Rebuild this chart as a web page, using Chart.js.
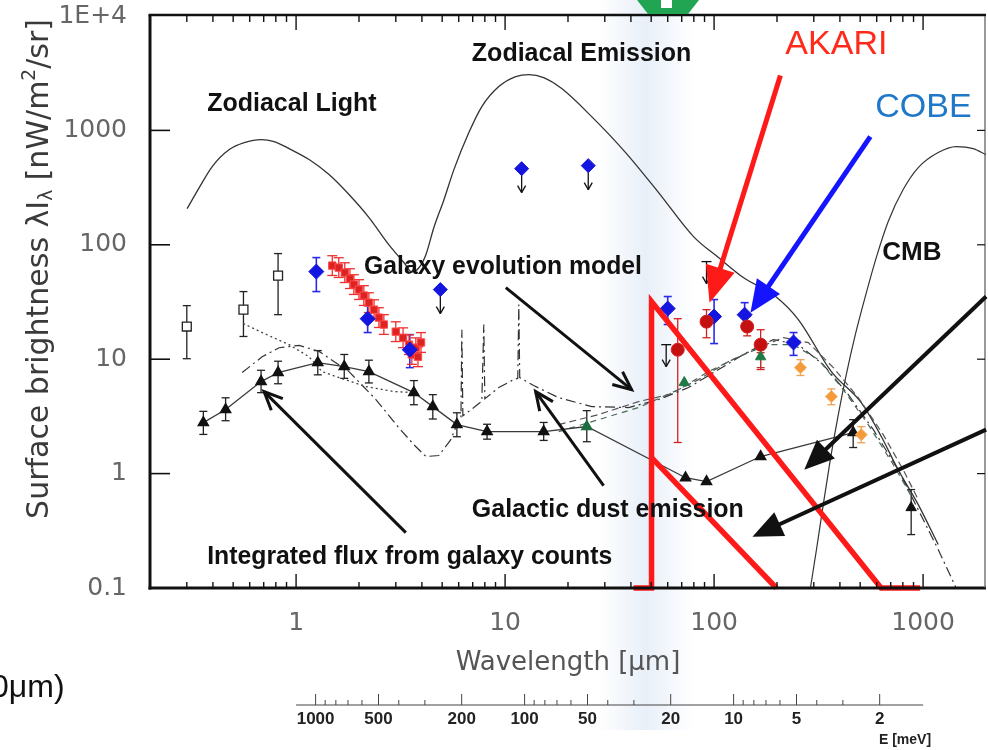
<!DOCTYPE html>
<html><head><meta charset="utf-8">
<script src="https://cdn.jsdelivr.net/npm/chart.js@4.4.1/dist/chart.umd.min.js"></script>
<style>html,body{margin:0;padding:0;background:#fff;overflow:hidden}canvas{display:block}</style>
</head><body>
<canvas id="c" width="988" height="750"></canvas>
<script>
// ---------------- DATA (wavelength in µm, surface brightness in nW/m²/sr) ----------------
const xTickValues = [1, 10, 100, 1000];
const yTickValues = [0.1, 1, 10, 100, 1000, 10000];
const energyTickLabels = [1000, 500, 200, 100, 50, 20, 10, 5, 2]; // meV

// Zodiacal light + zodiacal emission
const zodiLambda = [0.301,0.344,0.397,0.479,0.565,0.681,0.785,0.926,1.154,1.438,1.791,2.233,2.782,3.281,3.58,3.87,4.18,4.56,5.10,5.69,6.71,7.74,9.33,11.25,12.98,15.3,18.66,25.96,37.73,54.26,79.7,105,138,197,253,364,506,631,760,948,1181];
const zodiFlux   = [207,316,483,680,782,831,798,693,556,411,275,173,100,70,58,63,82,141,248,454,957,1615,2415,2953,3074,2894,2320,1320,640,286,118,77.3,51.7,35.3,22.2,7.79,4.17,2.11,1.08,0.536,0.24];

// CMB
const cmbLambda = [289,309,333,360,393,429,474,529,597,681,803,948,1181,1439,1736,2000];
const cmbFlux   = [0.1,0.217,0.536,1.33,3.28,7.33,16.4,35.3,77.3,160,304,473,640,722,693,614];

// Galactic dust emission (dash-dot, with PAH features)
const dustLambda = [0.552,0.688,0.829,1.034,1.288,1.791,2.41,3.1,3.66,4.18,4.82,5.5,6.0,6.15,6.21,6.28,7.09,7.74,7.91,8.0,9.33,11.0,11.5,11.63,11.75,13.7,18.0,26.0,39.0,54.3,75.5,105,146,192,253,333,439,578,760,948,1181,1439];
const dustFlux   = [7.64,10.5,12.6,13.2,11.7,7.79,4.44,2.52,1.79,1.41,1.44,1.98,2.96,3.1,18.1,3.2,3.78,4.3,20.1,4.5,5.65,6.63,6.8,30.0,6.9,5.88,4.62,3.85,3.78,4.44,5.65,8.11,11.65,14.84,13.4,8.97,4.90,2.42,1.08,0.484,0.217,0.1];

// Galaxy evolution model
const nirModelLambda = [0.558,0.688,0.926,1.154,1.331,1.553,2.16,2.94,3.66];
const nirModelFlux   = [20.5,17.1,13.4,10.5,7.79,7.05,5.76,5.21,5.11];
const firModelALambda = [18.05,28.0,43.5,60.5,84.2,117.2,163,214.6,282.5,372,489.7,644.7,803,948];
const firModelAFlux   = [2.68,3.28,4.26,4.90,6.63,9.53,12.63,15.45,13.97,8.44,4.62,2.19,1.08,0.593];
const firModelBLambda = [18.05,28.0,43.5,67.6,94.0,130.8,181.9,239.5,315.3,415.2,546.7,719.6,896.9];
const firModelBFlux   = [2.33,2.96,3.78,5.42,7.79,10.5,13.4,13.4,9.92,5.42,2.68,1.20,0.593];

// Integrated flux from galaxy counts (triangles)
const countsLambda = [0.36,0.46,0.68,0.82,1.27,1.7,2.23,3.66,4.51,5.88,8.2,15.3,24.6,73,92,167,463];
const countsFlux   = [2.79,3.63,6.37,7.64,9.34,8.62,7.79,5.11,3.85,2.68,2.33,2.33,2.58,0.92,0.85,1.41,2.28];
const countsErrLo  = [2.2,2.9,5.1,6.1,7.3,6.8,6.2,4.0,3.0,2.1,2.0,1.95,1.9,null,null,null,1.69];
const countsErrHi  = [3.5,4.6,8.0,9.6,11.9,11.0,9.8,6.5,4.9,3.4,2.7,2.8,3.55,null,null,null,2.96];

// Open squares (optical)
const sqLambda = [0.30,0.56,0.82];
const sqFlux   = [19.3,27.1,53.8];
const sqErrLo  = [10.1,15.8,24.5];
const sqErrHi  = [29.4,39.0,83.8];

// Red squares (near-IR spectrum)
const nirLambda = [1.49,1.6,1.71,1.81,1.89,2.0,2.11,2.23,2.36,2.49,2.63,3.0,3.25,3.47,3.74,3.96,3.58,3.83];
const nirFlux   = [65.8,63.2,57.1,50.6,44.9,40.6,36.0,31.2,27.1,23.1,20.1,17.4,15.4,13.4,12.6,14.0,11.0,10.5];

// COBE/DIRBE (blue diamonds)
const dirbeLambda = [1.25,2.2,3.5,60,100,140,240];
const dirbeFlux   = [58.3,22.6,12.1,27.7,23.6,24.5,14.0];
const dirbeErrLo  = [39.0,17.1,8.44,20.1,13.7,19.3,10.8];
const dirbeErrHi  = [77.3,29.4,16.4,35.3,33.2,31.2,17.1];
const dirbeULLambda = [4.9,12,25];
const dirbeULFlux   = [40.6,463,492];

// AKARI (red circles)
const akariLambda = [67,92,144,167];
const akariFlux   = [12.1,21.3,19.3,13.4];
const akariErrLo  = [1.87,15.4,16.0,8.12];
const akariErrHi  = [22.6,27.1,23.6,18.1];

// Other far-IR points
const greenLambda = [72,167];
const greenFlux   = [6.25,10.5];
const greenErrLo  = [null,8.44];
const greenErrHi  = [null,11.4];
const orangeLambda = [259,364,506];
const orangeFlux   = [8.44,4.71,2.19];
const orangeErrLo  = [7.2,4.0,1.86];
const orangeErrHi  = [9.9,5.5,2.57];
const ulBlackLambda = [59,92];
const ulBlackFlux   = [13.4,71.3];
const submmLambda = [877];
const submmFlux   = [0.504];
const submmErrLo  = [0.293];
const submmErrHi  = [0.725];

// AKARI band outlines (red)
const band1Lambda = [41.2,50.2,50.2,630,968];
const band1Flux   = [0.1,0.1,31.9,0.1,0.1];
const band2Lambda = [50.2,198.6];
const band2Flux   = [1.38,0.1];

// ---------------- ANNOTATIONS (in data coordinates) ----------------
const labelDefs = [
  {text:'Zodiacal Light', l:0.3756, f:1681, w:172, font:'bold 25px "Liberation Sans"', color:'#111'},
  {text:'Zodiacal Emission', l:6.934, f:4598, w:220, font:'bold 25px "Liberation Sans"', color:'#111'},
  {text:'Galaxy evolution model', l:2.113, f:63.2, w:278, font:'bold 25px "Liberation Sans"', color:'#111'},
  {text:'CMB', l:637.6, f:85.5, w:64, font:'bold 26px "Liberation Sans"', color:'#111'},
  {text:'Galactic dust emission', l:6.934, f:0.484, w:272, font:'bold 25px "Liberation Sans"', color:'#111'},
  {text:'Integrated flux from galaxy counts', l:0.3756, f:0.1844, w:405, font:'bold 25px "Liberation Sans"', color:'#111'},
  {text:'AKARI', l:219.3, f:5623, w:104, font:'34px "Liberation Sans"', color:'#ff2a1a'},
  {text:'COBE', l:590.3, f:1582, w:99, font:'34px "Liberation Sans"', color:'#1f78c8'}
];
const arrowDefs = [
  {from:[207.6,3013], to:[95.1,31.2], color:'#ff1a1a', width:5, head:'filled', hl:36, hw:15},
  {from:[559,883], to:[149.3,25.5], color:'#1414ff', width:5, head:'filled', hl:32, hw:14},
  {from:[3.35,0.305], to:[0.703,5.21], color:'#111', width:3, head:'open', hl:20},
  {from:[29.6,0.785], to:[14.0,5.21], color:'#111', width:3, head:'open', hl:20},
  {from:[10.08,42.3], to:[40.3,5.42], color:'#111', width:3, head:'open', hl:20},
  {from:[2002,35.3], to:[270,1.08], color:'#111', width:4, head:'filled', hl:30, hw:13},
  {from:[2002,2.42], to:[152.6,0.281], color:'#111', width:4, head:'filled', hl:30, hw:13}
];

// ---------------- CHART ----------------
const pts = (xs, ys) => xs.map((x, i) => ({x: x, y: ys[i]}));
Chart.defaults.font.family = "'DejaVu Sans', sans-serif";

const curve = (label, xs, ys, extra) => Object.assign({
  label, data: pts(xs, ys), showLine: true, pointRadius: 0, borderColor: '#333',
  borderWidth: 1.3, fill: false, tension: 0
}, extra || {});
const marks = (label, xs, ys, extra) => Object.assign({
  label, data: pts(xs, ys), showLine: false, pointRadius: 6, pointBorderWidth: 1
}, extra || {});

const datasets = [
  curve('AKARI band 1', band1Lambda, band1Flux, {borderColor:'#ff1a1a', borderWidth:5.5, clip:10, borderJoinStyle:'miter'}),
  curve('AKARI band 2', band2Lambda, band2Flux, {borderColor:'#ff1a1a', borderWidth:5.5, clip:10}),
  marks('AKARI', akariLambda, akariFlux, {pointStyle:'circle', pointRadius:6.5, backgroundColor:'#c41010', borderColor:'#d82020', errLo:akariErrLo, errHi:akariErrHi, errColor:'#d42020'}),
  marks('DIRBE', dirbeLambda, dirbeFlux, {pointStyle:'rectRot', pointRadius:7.5, backgroundColor:'#1515e0', borderColor:'#1515e0', errLo:dirbeErrLo, errHi:dirbeErrHi, errColor:'#2a2ae8', errWidth:1.6}),
  marks('DIRBE UL', dirbeULLambda, dirbeULFlux, {pointStyle:'rectRot', pointRadius:7, backgroundColor:'#1515e0', borderColor:'#1515e0', ulArrow:true}),
  marks('NIR spectrum', nirLambda, nirFlux, {pointStyle:'rect', pointRadius:5.2, backgroundColor:'#dd2222', borderColor:'#ff4a4a', errLo:nirLambda.map((v,i)=>nirFlux[i]/1.22), errHi:nirLambda.map((v,i)=>nirFlux[i]*1.22), errColor:'#ee3030', capHalf:5}),
  marks('Green', greenLambda, greenFlux, {pointStyle:'triangle', pointRadius:6, backgroundColor:'#1e7b45', borderColor:'#1e7b45', errLo:greenErrLo, errHi:greenErrHi, errColor:'#c03030'}),
  marks('Orange', orangeLambda, orangeFlux, {pointStyle:'rectRot', pointRadius:6, backgroundColor:'#f59a3a', borderColor:'#f7b060', errLo:orangeErrLo, errHi:orangeErrHi, errColor:'#f0a050'}),
  marks('Upper limits', ulBlackLambda, ulBlackFlux, {pointRadius:0, ulCap:true}),
  marks('Submm', submmLambda, submmFlux, {pointStyle:'triangle', pointRadius:6, backgroundColor:'#111', borderColor:'#111', errLo:submmErrLo, errHi:submmErrHi, errColor:'#222'}),
  marks('Optical', sqLambda, sqFlux, {pointStyle:'rect', pointRadius:6.3, backgroundColor:'#fff', borderColor:'#222', pointBorderWidth:1.3, errLo:sqErrLo, errHi:sqErrHi, errColor:'#222'}),
  curve('Galaxy counts', countsLambda, countsFlux, {pointRadius:6, pointStyle:'triangle', borderColor:'#3a3a3a', borderWidth:1.3,
     pointBackgroundColor: countsLambda.map((v,i)=> i===12 ? '#1e6b3f' : '#111'), pointBorderColor: countsLambda.map((v,i)=> i===12 ? '#1e6b3f' : '#111'),
     errLo:countsErrLo, errHi:countsErrHi, errColor:'#222'}),
  curve('NIR model', nirModelLambda, nirModelFlux, {borderDash:[2,3], borderColor:'#444'}),
  curve('FIR model A', firModelALambda, firModelAFlux, {borderDash:[7,4], borderColor:'#555', borderWidth:1.2}),
  curve('FIR model B', firModelBLambda, firModelBFlux, {borderDash:[6,5], borderColor:'#4a6a55', borderWidth:1.2}),
  curve('Galactic dust', dustLambda, dustFlux, {borderDash:[10,4,2,4], borderColor:'#333', borderWidth:1.2}),
  curve('CMB', cmbLambda, cmbFlux, {cubicInterpolationMode:'monotone', borderColor:'#333', borderWidth:1.2}),
  curve('Zodiacal', zodiLambda, zodiFlux, {cubicInterpolationMode:'monotone', borderColor:'#333', borderWidth:1.3})
];

function line(ctx, x1, y1, x2, y2) { ctx.beginPath(); ctx.moveTo(x1, y1); ctx.lineTo(x2, y2); ctx.stroke(); }

function drawArrow(ctx, x1, y1, x2, y2, o) {
  const a = Math.atan2(y2 - y1, x2 - x1);
  ctx.save();
  ctx.strokeStyle = o.color; ctx.fillStyle = o.color; ctx.lineWidth = o.width; ctx.lineCap = 'butt';
  if (o.head === 'filled') {
    const bx = x2 - o.hl * Math.cos(a), by = y2 - o.hl * Math.sin(a);
    line(ctx, x1, y1, bx + 2 * Math.cos(a), by + 2 * Math.sin(a));
    ctx.beginPath(); ctx.moveTo(x2, y2);
    ctx.lineTo(bx + o.hw * Math.sin(a), by - o.hw * Math.cos(a));
    ctx.lineTo(bx - o.hw * Math.sin(a), by + o.hw * Math.cos(a));
    ctx.closePath(); ctx.fill();
  } else {
    line(ctx, x1, y1, x2, y2);
    ctx.lineJoin = 'miter';
    ctx.beginPath();
    ctx.moveTo(x2 - o.hl * Math.cos(a - 0.42), y2 - o.hl * Math.sin(a - 0.42));
    ctx.lineTo(x2, y2);
    ctx.lineTo(x2 - o.hl * Math.cos(a + 0.42), y2 - o.hl * Math.sin(a + 0.42));
    ctx.stroke();
  }
  ctx.restore();
}

const decorPlugin = {
  id: 'decor',
  beforeDraw(chart) {
    const {ctx, scales: {x}} = chart;
    ctx.save();
    ctx.fillStyle = '#fff'; ctx.fillRect(0, 0, chart.width, chart.height);
    const xc = x.getPixelForValue(47);
    const g = ctx.createLinearGradient(xc - 48, 0, xc + 48, 0);
    g.addColorStop(0, 'rgba(210,224,242,0)');
    g.addColorStop(0.5, 'rgba(210,224,242,0.5)');
    g.addColorStop(1, 'rgba(210,224,242,0)');
    ctx.fillStyle = g; ctx.fillRect(xc - 48, 0, 96, 730);
    ctx.restore();
  },
  beforeDatasetsDraw(chart) {
    const {ctx, scales: {x, y}} = chart;
    ctx.save();
    chart.data.datasets.forEach(ds => {
      if (ds.errLo) {
        ctx.strokeStyle = ds.errColor || '#222';
        ctx.lineWidth = ds.errWidth || 1.3;
        const c = ds.capHalf || 4;
        ds.data.forEach((p, i) => {
          if (ds.errLo[i] == null) return;
          const xp = x.getPixelForValue(p.x);
          const y1 = y.getPixelForValue(ds.errLo[i]), y2 = y.getPixelForValue(ds.errHi[i]);
          line(ctx, xp, y1, xp, y2);
          line(ctx, xp - c, y1, xp + c, y1);
          line(ctx, xp - c, y2, xp + c, y2);
        });
      }
      if (ds.ulArrow || ds.ulCap) {
        ctx.strokeStyle = '#111'; ctx.fillStyle = '#111'; ctx.lineWidth = 1.3;
        ds.data.forEach(p => {
          const xp = x.getPixelForValue(p.x), yp = y.getPixelForValue(p.y);
          const top = ds.ulCap ? yp : yp + 6;
          const bot = yp + (ds.ulCap ? 22 : 24);
          if (ds.ulCap) line(ctx, xp - 5, top, xp + 5, top);
          line(ctx, xp, top, xp, bot);
          line(ctx, xp - 4, bot - 7, xp, bot);
          line(ctx, xp + 4, bot - 7, xp, bot);
        });
      }
    });
    ctx.restore();
  },
  afterDraw(chart) {
    const {ctx, chartArea: ca, scales: {x, y}} = chart;
    ctx.save();
    // frame
    ctx.strokeStyle = '#111';
    ctx.lineWidth = 3; line(ctx, ca.left, ca.top - 1, ca.left, ca.bottom + 1.5);
    line(ctx, ca.left - 1.5, ca.bottom, ca.right, ca.bottom);
    ctx.lineWidth = 2.5; line(ctx, ca.left - 1.5, ca.top - 1, ca.right, ca.top - 1);
    ctx.lineWidth = 1.2; ctx.strokeStyle = '#555'; line(ctx, ca.right - 1, ca.top, ca.right - 1, ca.bottom);
    // inward log ticks on x (bottom and top)
    ctx.strokeStyle = '#111'; ctx.lineWidth = 1.4;
    for (let d = -1; d <= 3; d++) for (let k = 1; k <= 9; k++) {
      const v = k * Math.pow(10, d);
      if (v <= x.min * 1.001 || v >= x.max) continue;
      const xp = x.getPixelForValue(v);
      const len = k === 1 ? 14 : 6;
      line(ctx, xp, ca.bottom, xp, ca.bottom - len);
      line(ctx, xp, ca.top, xp, ca.top + len);
    }
    // inward ticks on y (left long, right short)
    yTickValues.forEach(v => {
      if (v <= y.min || v >= y.max) return;
      const yp = y.getPixelForValue(v);
      ctx.lineWidth = 1.6; line(ctx, ca.left, yp, ca.left + 20, yp);
      ctx.lineWidth = 1.2; line(ctx, ca.right - 1, yp, ca.right - 9, yp);
    });
    // annotation labels
    ctx.textBaseline = 'middle'; ctx.textAlign = 'left';
    labelDefs.forEach(L => {
      ctx.font = L.font; ctx.fillStyle = L.color;
      ctx.fillText(L.text, x.getPixelForValue(L.l), y.getPixelForValue(L.f), L.w);
    });
    // annotation arrows
    arrowDefs.forEach(A => drawArrow(ctx, x.getPixelForValue(A.from[0]), y.getPixelForValue(A.from[1]),
                                          x.getPixelForValue(A.to[0]), y.getPixelForValue(A.to[1]), A));
    // y-axis title with sub/superscripts
    ctx.save();
    ctx.translate(40, 269); ctx.rotate(-Math.PI / 2);
    const parts = [{t:'Surface brightness λI', s:1, dy:0}, {t:'λ', s:0.62, dy:7}, {t:' [nW/m', s:1, dy:0}, {t:'2', s:0.62, dy:-10}, {t:'/sr]', s:1, dy:0}];
    let base = 25, total = 0;
    parts.forEach(p => { ctx.font = (base * p.s) + 'px "DejaVu Sans"'; total += ctx.measureText(p.t).width; });
    base = base * 500 / total;
    total = 0;
    parts.forEach(p => { ctx.font = (base * p.s) + 'px "DejaVu Sans"'; p.w = ctx.measureText(p.t).width; total += p.w; });
    let cx = -total / 2;
    ctx.fillStyle = '#3a3a3a'; ctx.textBaseline = 'middle'; ctx.textAlign = 'left';
    parts.forEach(p => { ctx.font = (base * p.s) + 'px "DejaVu Sans"'; ctx.fillText(p.t, cx, p.dy); cx += p.w; });
    ctx.restore();
    // energy axis
    const hc = 1239.84, yE = 705;
    ctx.strokeStyle = '#444'; ctx.lineWidth = 1.2;
    line(ctx, x.getPixelForValue(1), yE, x.getPixelForValue(1000), yE);
    ctx.lineWidth = 1;
    for (let n = 0; n <= 3; n++) for (let k = 1; k <= 9; k++) {
      const E = k * Math.pow(10, n), lam = hc / E;
      if (lam < 1 || lam > 1000) continue;
      const xp = x.getPixelForValue(lam);
      const len = energyTickLabels.includes(E) ? 11 : (k === 1 || k === 5 ? 8 : 5);
      line(ctx, xp, yE, xp, yE - len);
    }
    ctx.fillStyle = '#222'; ctx.font = 'bold 17px "Liberation Sans"'; ctx.textAlign = 'center'; ctx.textBaseline = 'middle';
    energyTickLabels.forEach(E => ctx.fillText(String(E), x.getPixelForValue(hc / E), 719));
    ctx.font = 'bold 14px "Liberation Sans"';
    ctx.fillText('E [meV]', 905, 740);
    // slide remnants: partial text and green arrow
    ctx.textAlign = 'left'; ctx.font = '32px "Liberation Sans"'; ctx.fillStyle = '#111';
    ctx.fillText('0μm)', -9, 688);
    ctx.fillStyle = '#22a552';
    ctx.beginPath(); ctx.moveTo(637, 0); ctx.lineTo(699, 0); ctx.lineTo(688, 14); ctx.lineTo(648, 14); ctx.closePath(); ctx.fill();
    ctx.fillStyle = '#fff'; ctx.fillRect(661, 0, 11, 8);
    ctx.restore();
  }
};

new Chart(document.getElementById('c'), {
  type: 'scatter',
  data: { datasets },
  options: {
    responsive: false, animation: false, devicePixelRatio: 1,
    layout: { autoPadding: false, padding: { top: 16, right: 2, left: 0, bottom: 0 } },
    plugins: { legend: { display: false }, tooltip: { enabled: false } },
    scales: {
      x: {
        type: 'logarithmic', min: 0.2, max: 2000,
        grid: { display: false, drawTicks: false }, border: { display: false },
        afterBuildTicks: s => { s.ticks = xTickValues.map(v => ({ value: v })); },
        afterFit: s => { s.height = 162; s.paddingLeft = 0; s.paddingRight = 0; },
        ticks: { autoSkip: false, maxRotation: 0, padding: 20, color: '#666', font: { size: 25 }, callback: v => String(v) },
        title: { display: true, text: 'Wavelength [μm]', color: '#555', font: { size: 26 }, padding: { top: 0, bottom: 71 } }
      },
      y: {
        type: 'logarithmic', min: 0.1, max: 10000,
        grid: { display: false, drawTicks: false }, border: { display: false },
        afterBuildTicks: s => { s.ticks = yTickValues.map(v => ({ value: v })); },
        afterFit: s => { s.width = 150; s.paddingTop = 0; s.paddingBottom = 0; },
        ticks: { autoSkip: false, padding: 23, color: '#666', font: { size: 25 }, callback: v => v === 10000 ? '1E+4' : String(v) }
      }
    }
  },
  plugins: [decorPlugin]
});
</script>
</body></html>
